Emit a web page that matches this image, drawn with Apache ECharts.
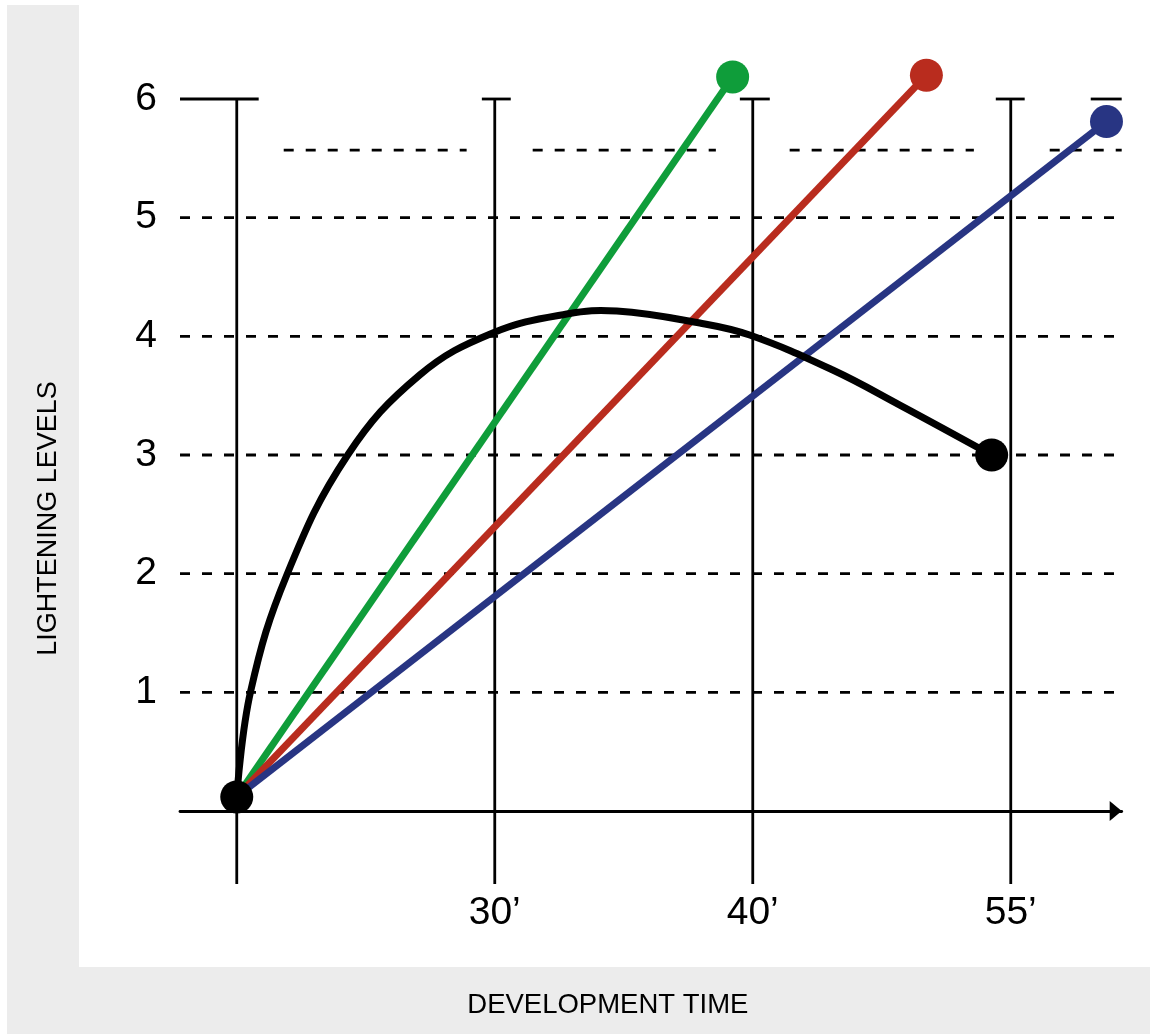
<!DOCTYPE html>
<html>
<head>
<meta charset="utf-8">
<title>Lightening levels</title>
<script src="https://cdn.jsdelivr.net/npm/echarts@6/dist/echarts.min.js"></script>
<style>
    html, body { margin: 0; padding: 0; background: #fff; }
    #chart { width: 1150px; height: 1034px; }
</style>
</head>
<body>
<div id="chart"></div>
<script>
// ticks / labels
const levelTicks = [1, 2, 3, 4, 5, 6];
const timeTicks = [1, 2, 3];
const timeLabels = ["30’", "40’", "55’"];

// black curve (x in time slots, y in level)
const curveTime = [0, 0.054, 0.194, 0.43, 0.709, 0.992, 1.279, 1.473, 1.795, 1.988, 2.31, 2.57, 2.926];
const curveLevel = [0.118, 1.011, 1.989, 3.0, 3.674, 4.028, 4.188, 4.213, 4.112, 4.011, 3.716, 3.421, 3.0];

// straight lines: start and end points
const greenLine = [[0, 0.12], [1.922, 6.186]];
const redLine = [[0, 0.12], [2.673, 6.2]];
const blueLine = [[0, 0.12], [3.371, 5.81]];

// guides
const guideTimes = [0, 1, 2, 3];
const dashLevels = [1, 2, 3, 4, 5];
const capLevel = 6;
const capSegments = [[-0.22, 0.085], [0.95, 1.062], [1.95, 2.066], [2.942, 3.054], [3.31, 3.43]];
const upperDashLevel = 5.57;
const upperDashSegments = [[0.182, 0.891], [1.147, 1.857], [2.143, 2.857], [3.151, 3.43]];

const X_MIN = -0.22, X_MAX = 3.43;
const Y_MIN = -0.615, Y_MAX = 6;

var chart = echarts.init(document.getElementById("chart"));

function guide(points, dashed) {
    return {
        type: "line",
        data: points,
        symbol: "none",
        silent: true,
        clip: false,
        z: 1,
        lineStyle: {
            color: "#000",
            width: 2.8,
            type: dashed ? [10, 12] : "solid"
        }
    };
}

function endLine(points, color) {
    return {
        type: "line",
        data: points,
        clip: false,
        z: 3,
        symbol: "circle",
        symbolSize: function (v, p) {
            return p.dataIndex === points.length - 1 ? 33 : 0;
        },
        itemStyle: { color: color, opacity: 1 },
        lineStyle: { color: color, width: 7 }
    };
}

var series = [];
guideTimes.forEach(function (t) {
    series.push(guide([[t, Y_MIN], [t, Y_MAX]], false));
});
dashLevels.forEach(function (l) {
    series.push(guide([[X_MIN, l], [X_MAX, l]], true));
});
capSegments.forEach(function (s) {
    series.push(guide([[s[0], capLevel], [s[1], capLevel]], false));
});
upperDashSegments.forEach(function (s) {
    series.push(guide([[s[0], upperDashLevel], [s[1], upperDashLevel]], true));
});

series.push(endLine(greenLine, "#0f9d3a"));
series.push(endLine(redLine, "#b92c1e"));
series.push(endLine(blueLine, "#283583"));

var curve = curveTime.map(function (t, i) { return [t, curveLevel[i]]; });

// smooth curve through the read points (one path, built from the axis scales)
series.push({
    type: "custom",
    data: curve,
    encode: { x: 0, y: 1 },
    clip: false,
    silent: true,
    z: 4,
    renderItem: function (params, api) {
        if (params.dataIndex !== 0) return;
        var pts = curve.map(function (p) { return api.coord(p); });
        return {
            type: "polyline",
            shape: { points: pts, smooth: 0.4 },
            style: { stroke: "#000", lineWidth: 7, fill: "none", lineCap: "round" }
        };
    }
});
series.push({
    type: "scatter",
    data: [curve[0], curve[curve.length - 1]],
    symbolSize: 33,
    clip: false,
    z: 5,
    itemStyle: { color: "#000", opacity: 1 }
});

var font = "'Liberation Sans', Arial, Helvetica, sans-serif";

chart.setOption({
    animation: false,
    backgroundColor: "#fff",
    graphic: [
        { type: "rect", z: -10, shape: { x: 7, y: 5, width: 72, height: 1029 }, style: { fill: "#ececec" } },
        { type: "rect", z: -10, shape: { x: 7, y: 967, width: 1143, height: 67 }, style: { fill: "#ececec" } }
    ],
    grid: {
        left: 180,
        top: 99,
        width: 941.7,
        height: 785,
        containLabel: false,
        outerBoundsMode: "none"
    },
    xAxis: {
        type: "value",
        min: X_MIN,
        max: X_MAX,
        splitLine: { show: false },
        axisTick: { show: false },
        axisLine: {
            onZero: true,
            symbol: ["none", "triangle"],
            symbolSize: [20, 12],
            symbolOffset: [0, -6],
            lineStyle: { color: "#000", width: 2.8 }
        },
        axisLabel: {
            customValues: timeTicks,
            formatter: function (v) {
                var i = timeTicks.indexOf(v);
                return i >= 0 ? timeLabels[i] : "";
            },
            margin: 10,
            color: "#000",
            fontSize: 39,
            fontFamily: font
        },
        name: "DEVELOPMENT TIME",
        nameLocation: "middle",
        nameGap: 107,
        nameTextStyle: {
            color: "#000",
            fontSize: 27.5,
            fontFamily: font,
            padding: [0, 86, 0, 0]
        }
    },
    yAxis: {
        type: "value",
        min: Y_MIN,
        max: Y_MAX,
        splitLine: { show: false },
        axisTick: { show: false },
        axisLine: { show: false },
        axisLabel: {
            customValues: levelTicks,
            margin: 23,
            color: "#000",
            fontSize: 39,
            fontFamily: font
        },
        name: "LIGHTENING LEVELS",
        nameLocation: "middle",
        nameRotate: 90,
        nameGap: 118,
        nameTextStyle: {
            color: "#000",
            fontSize: 27,
            fontFamily: font,
            padding: [0, 54, 0, 0]
        }
    },
    series: series
});
</script>
</body>
</html>
